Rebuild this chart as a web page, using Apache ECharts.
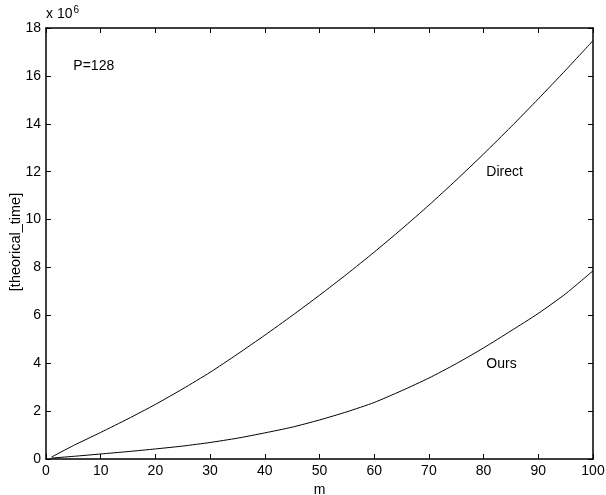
<!DOCTYPE html>
<html>
<head>
<meta charset="utf-8">
<script src="https://cdn.jsdelivr.net/npm/echarts@6/dist/echarts.min.js"></script>
<style>
html,body{margin:0;padding:0;background:#fff;}
#c{width:606px;height:495px;}
</style>
</head>
<body>
<div id="c"></div>
<script>
var mValues = [1, 5, 10, 15, 20, 25, 30, 35, 40, 45, 50, 55, 60, 65, 70, 75, 80, 85, 90, 95, 100];
var directValues = [0.08, 0.56, 1.11, 1.68, 2.28, 2.93, 3.62, 4.38, 5.17, 5.99, 6.84, 7.72, 8.64, 9.6, 10.6, 11.65, 12.74, 13.87, 15.04, 16.24, 17.47];
var oursValues = [0.04, 0.11, 0.21, 0.31, 0.42, 0.54, 0.69, 0.87, 1.09, 1.33, 1.63, 1.97, 2.36, 2.85, 3.38, 3.98, 4.64, 5.35, 6.08, 6.9, 7.86];
var xTicks = [0, 10, 20, 30, 40, 50, 60, 70, 80, 90, 100];
var yTicks = [0, 2, 4, 6, 8, 10, 12, 14, 16, 18];
var seriesNames = ['Direct', 'Ours'];
var yAxisTitle = '[theorical_time]';
var annotations = [
  {text: 'P=128', m: 5, v: 16.4},
  {text: 'Direct', m: 80.5, v: 12.0},
  {text: 'Ours', m: 80.5, v: 3.98}
];

var FONT = '"Liberation Sans", Arial, Helvetica, sans-serif';
function pairs(vals){ return mValues.map(function(m,i){ return [m, vals[i]]; }); }

var chart = echarts.init(document.getElementById('c'), null, {renderer:'canvas'});
var axisLine = {show:true, onZero:false, lineStyle:{color:'#000', width:1.5}};
var tick = {show:true, inside:true, length:5, lineStyle:{color:'#000', width:1}};
var lbl = {color:'#000', fontFamily:FONT, fontSize:14};

var option = {
  animation:false,
  backgroundColor:'#fff',
  grid:{left:46, right:13, top:28, bottom:36, containLabel:false, outerBoundsMode:'none'},
  xAxis:[
    {type:'value', min:0, max:100, interval:10, position:'bottom',
     name:'m', nameLocation:'middle', nameGap:21,
     nameTextStyle:{color:'#000', fontFamily:FONT, fontSize:14},
     axisLine:axisLine, axisTick:tick, splitLine:{show:false},
     axisLabel:Object.assign({margin:5}, lbl)},
    {type:'value', min:0, max:100, interval:10, position:'top',
     axisLine:axisLine, axisTick:tick, splitLine:{show:false}, axisLabel:{show:false}}
  ],
  yAxis:[
    {type:'value', min:0, max:18, interval:2, position:'left',
     axisLine:axisLine, axisTick:tick, splitLine:{show:false},
     axisLabel:Object.assign({margin:5}, lbl)},
    {type:'value', min:0, max:18, interval:2, position:'right',
     axisLine:axisLine, axisTick:tick, splitLine:{show:false}, axisLabel:{show:false}}
  ],
  series:[
    {name:seriesNames[0], type:'line', data:pairs(directValues), smooth:0.2, symbol:'none',
     lineStyle:{color:'#000', width:1}},
    {name:seriesNames[1], type:'line', data:pairs(oursValues), smooth:0.2, symbol:'none',
     lineStyle:{color:'#000', width:1}}
  ]
};
chart.setOption(option);

var g = annotations.map(function(a){
  var p = chart.convertToPixel({xAxisIndex:0, yAxisIndex:0}, [a.m, a.v]);
  return {type:'text', x:p[0], y:p[1],
    style:{text:a.text, fill:'#000', font:'14px ' + FONT, textAlign:'left', textVerticalAlign:'middle'}};
});
g.push({type:'text', x:46, y:23,
  style:{text:'{a|x 10}{s|6}', textVerticalAlign:'bottom',
    rich:{a:{fontFamily:FONT, fontSize:14, fill:'#000'},
          s:{fontFamily:FONT, fontSize:10, fill:'#000', verticalAlign:'top', padding:[0,0,8,1]}}}});
g.push({type:'text', x:16, y:242, rotation:Math.PI/2,
  style:{text:yAxisTitle, fill:'#000', font:'14.5px ' + FONT, textAlign:'center', textVerticalAlign:'middle'}});
chart.setOption({graphic:g});
</script>
</body>
</html>
